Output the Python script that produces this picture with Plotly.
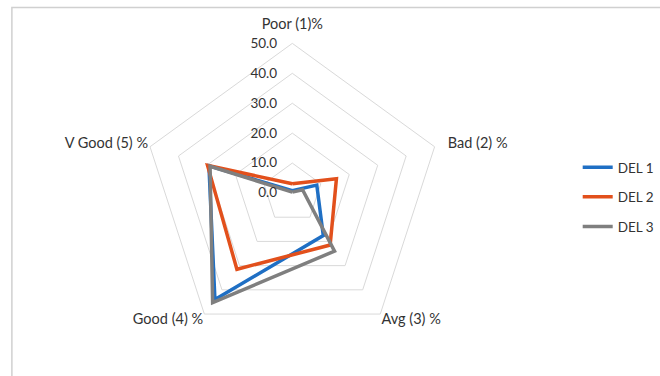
import plotly.graph_objects as go

categories = ["Poor (1)%", "Bad (2) %", "Avg (3) %", "Good (4) %", "V Good (5) %"]
series_names = ["DEL 1", "DEL 2", "DEL 3"]
del1 = [0.8, 8.6, 17.6, 44.0, 29.3]
del2 = [3.1, 15.5, 21.5, 31.5, 29.8]
del3 = [0.3, 3.6, 24.0, 45.3, 28.9]
colors = ["#1f6fc4", "#e2501c", "#7f7f7f"]
radial_ticks = [0, 10, 20, 30, 40, 50]

# labels drawn at 14.5px; the top one gets a small blank line so it sits higher
angular_text = ["<span style='font-size:14.5px'>%s</span>" % c for c in categories]
angular_text[0] = angular_text[0] + "<br>\u00a0"
angular_text[1] = "<span style='font-size:14.5px'>\u00a0\u00a0\u00a0%s</span>" % categories[1]

fig = go.Figure()
for name, vals, col in zip(series_names, [del1, del2, del3], colors):
    fig.add_trace(go.Scatterpolar(
        r=vals + [vals[0]],
        theta=categories + [categories[0]],
        mode="lines",
        name=name,
        legendgroup=name,
        line=dict(color=col, width=3.5),
    ))

W, H = 660, 376
cx, cy, R = 295, 193, 151
txt = "#333333"
fig.update_layout(
    width=W, height=H,
    margin=dict(l=0, r=0, t=0, b=0),
    paper_bgcolor="white",
    font=dict(family="Lato, Open Sans, sans-serif", size=13, color=txt),
    polar=dict(
        domain=dict(x=[(cx - R) / W, (cx + R) / W], y=[1 - (cy + R) / H, 1 - (cy - R) / H]),
        gridshape="linear",
        bgcolor="white",
        radialaxis=dict(
            range=[0, 50], tickvals=radial_ticks, tickformat=".1f",
            angle=90, tickangle=90, side="counterclockwise",
            showline=False, gridcolor="#d9d9d9", gridwidth=1,
            ticks="outside", ticklen=10, tickcolor="rgba(0,0,0,0)",
            tickfont=dict(size=13.5, color=txt),
        ),
        angularaxis=dict(
            direction="clockwise", rotation=90,
            tickmode="array", tickvals=categories, ticktext=angular_text,
            showgrid=False, showline=True, linecolor="#d9d9d9", linewidth=1,
            ticks="", tickfont=dict(size=8, color=txt),
        ),
    ),
    legend=dict(
        x=583 / W, y=1 - 197 / H, yanchor="middle", xanchor="left",
        font=dict(size=13.5, color=txt),
        itemwidth=30, tracegroupgap=9, bgcolor="rgba(0,0,0,0)",
    ),
    shapes=[dict(
        type="rect", xref="paper", yref="paper",
        x0=12 / W, x1=1.05, y0=-0.05, y1=1 - 7.5 / H,
        line=dict(color="#d0d0d0", width=1.5),
    )],
)

fig.write_html("out.html")
